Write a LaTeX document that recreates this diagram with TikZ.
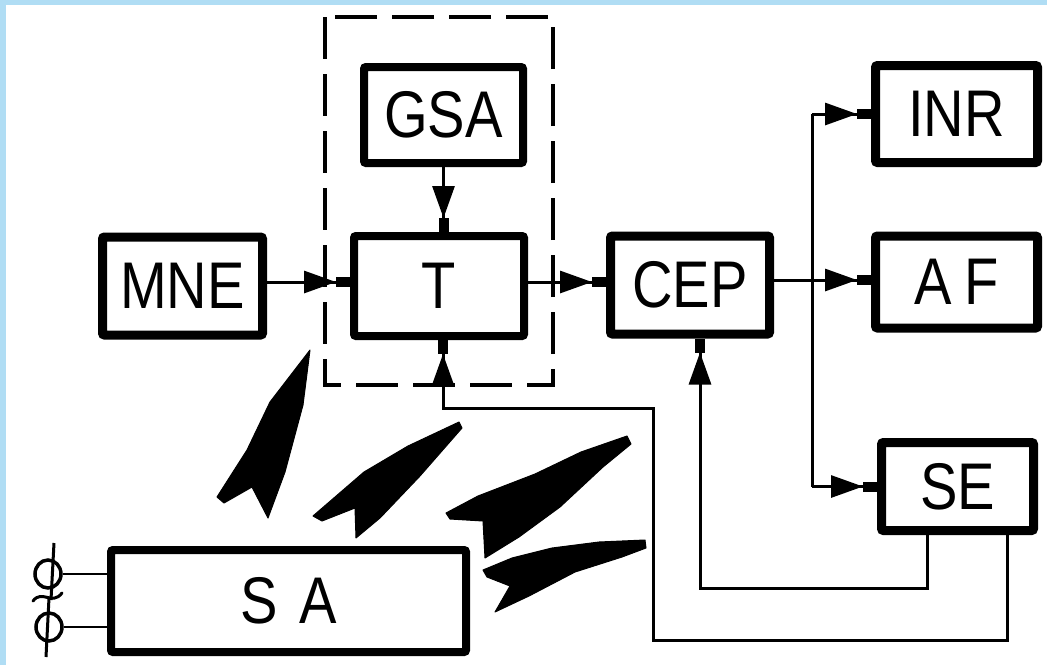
\documentclass[tikz,border=0pt]{standalone}
\usepackage{fontspec}
\setmainfont{Liberation Sans}[FakeStretch=0.85]
\usetikzlibrary{arrows.meta,shapes.geometric}
\definecolor{bluebg}{RGB}{176,221,244}
\begin{document}
\begin{tikzpicture}[x=1pt,y=-1pt,
  box/.style={draw=black, fill=white, line width=9pt, rounded corners=2pt, inner sep=0pt,
    font=\fontsize{66}{70}\selectfont},
  thinbox/.style={box, line width=8pt},
  conn/.style={line width=3pt, -{Triangle[length=32pt 0 0,width=22pt 0 0]Rectangle[length=14pt 0 0,width=10pt 0 0]}},
  wire/.style={line width=3pt},
  bolt/.style={fill=black, draw=black, line width=1pt, line join=round},
  phi/.style={ellipse, draw=black, line width=3.5pt, inner sep=0pt, minimum width=26pt, minimum height=28pt}]
\useasboundingbox (0,0) rectangle (1047,665);
\fill[bluebg] (0,0) rectangle (1047,665);
\fill[white] (6,5) rectangle (1047,665);

% dashed frame
\draw[line width=4.5pt, dash pattern=on 42pt off 15pt] (325,17) rectangle (553,385);

% boxes
\node[thinbox, minimum width=159pt, minimum height=96pt] (GSA) at (443.5,115) {GSA};
\node[thinbox, minimum width=170pt, minimum height=100pt] (T) at (439,286) {T};
\node[box, minimum width=160pt, minimum height=98pt] (MNE) at (182.5,286) {MNE};
\node[box, minimum width=159pt, minimum height=98pt] (CEP) at (690,285) {CEP};
\node[box, minimum width=162pt, minimum height=97pt] (INR) at (956.5,114) {INR};
\node[box, minimum width=162pt, minimum height=92pt] (AF) at (956.5,282) {A\hspace{12pt}F};
\node[box, minimum width=152pt, minimum height=88pt] (SE) at (957.5,486.5) {SE};
\node[thinbox, minimum width=355pt, minimum height=102pt] (SA) at (288.5,601) {S\hspace{22pt}A\hspace{46pt}};

% helper coordinates
\coordinate (ya) at (0,282);
\coordinate (yb) at (0,280);
\coordinate (br) at (812,280);
\coordinate (k1) at (927,588);
\coordinate (k2) at (700,588);
\coordinate (m1) at (1007,640);
\coordinate (m2) at (653,640);
\coordinate (m3) at (653,408);
\coordinate (m4) at (443,408);

% connectors
\draw[conn] (MNE.east |- ya) -- (T.west |- ya);
\draw[conn] (GSA.south) -- (GSA.south |- T.north);
\draw[conn] (T.east |- ya) -- (CEP.west |- ya);
\draw[conn] (CEP.east |- yb) -- (AF.west |- yb);
\draw[wire] (br |- INR.west) -- (br |- SE.west);
\draw[conn] (br |- INR.west) -- (INR.west);
\draw[conn] (br |- SE.west) -- (SE.west);
\draw[conn] (SE.south -| k1) -- (k1) -- (k2) -- (k2 |- CEP.south);
\draw[conn] (SE.south -| m1) -- (m1) -- (m2) -- (m3) -- (m4) -- (m4 |- T.south);

% terminals at SA
\node[phi] (p1) at (48,574) {};
\node[phi] (p2) at (49,627) {};
\draw[line width=2.5pt] (p1.east) -- (p1.east -| SA.west);
\draw[line width=2.5pt] (p2.east) -- (p2.east -| SA.west);
\draw[line width=3pt] (54,543) -- (51,600);
\draw[line width=3pt] (49,598) -- (46,657);
\draw[line width=3pt, line cap=round] (33,601) .. controls (42,589) and (52,606) .. (62,593);

% lightning bolts
\filldraw[bolt] (310,350) -- (270,402) -- (247,450) -- (217,497) -- (224,503) -- (252,487)
  -- (268,518) -- (285,472) -- (303,405) -- cycle;
\filldraw[bolt] (459,422) -- (408,446) -- (364,472) -- (313,516) -- (322,521) -- (355,508)
  -- (356,538) -- (380,518) -- (420,476) -- (462,428) -- cycle;
\filldraw[bolt] (627,436) -- (581,452) -- (535,474) -- (478,496) -- (446,513) -- (450,519)
  -- (483,521) -- (485,558) -- (519,537) -- (560,507) -- (603,467) -- (631,444) -- cycle;
\filldraw[bolt] (645,540) -- (599,542) -- (552,548) -- (512,558) -- (483,570) -- (487,577)
  -- (510,586) -- (495,612) -- (529,596) -- (575,572) -- (622,557) -- (646,548) -- cycle;
\end{tikzpicture}
\end{document}
